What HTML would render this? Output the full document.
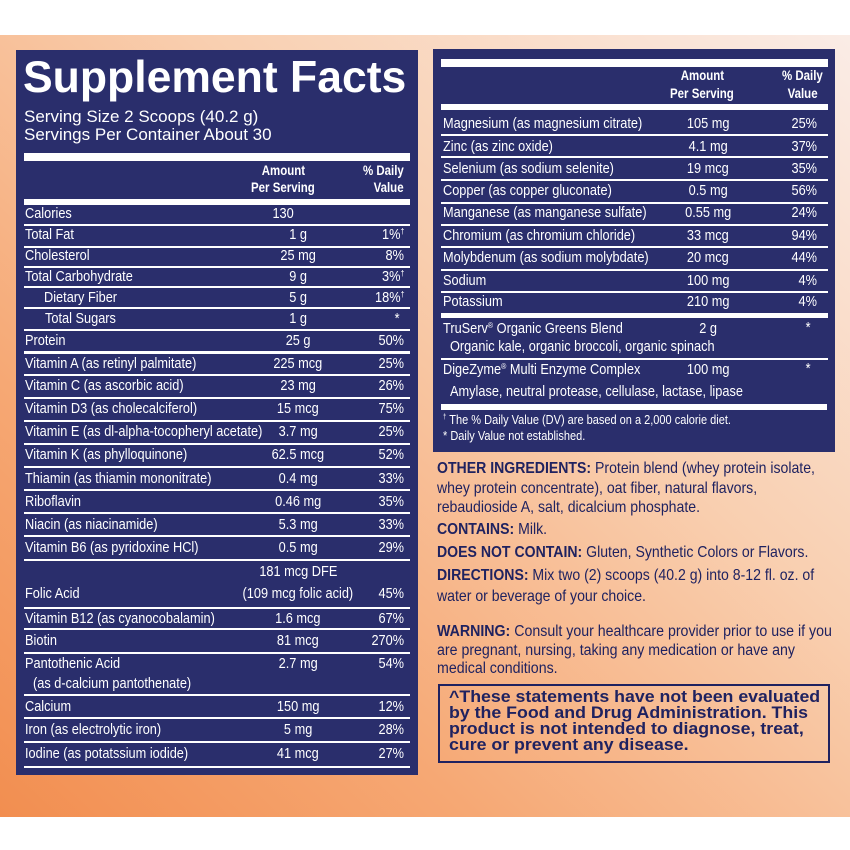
<!DOCTYPE html>
<html><head><meta charset="utf-8">
<style>
html,body{margin:0;padding:0;}
body{width:850px;height:850px;position:relative;overflow:hidden;background:#fff;font-family:"Liberation Sans",Arial,sans-serif;}
#bg{position:absolute;left:0;top:35px;width:850px;height:782px;background:linear-gradient(to bottom left,#faece6 0%,#f9cfb0 38%,#f6a874 72%,#f28e50 100%);}
.panel{position:absolute;background:#2a2e6c;}
.t{position:absolute;white-space:nowrap;color:#fff;font-size:14.5px;line-height:18px;height:18px;}
.t span{display:inline-block;}
.sp{position:relative;top:-5px;font-size:8px;line-height:0;}
.ln{position:absolute;background:#fff;}
.bt{position:absolute;white-space:nowrap;color:#1f2260;font-size:16px;line-height:20px;transform-origin:left center;}
.bt b{font-weight:bold;}
.dl{display:block;transform:scaleX(1.075);transform-origin:left center;}
</style></head>
<body>
<div id="bg"></div>
<div class="panel" style="left:16px;top:50px;width:402px;height:725px"></div>
<div class="panel" style="left:433px;top:49px;width:402px;height:403px"></div>
<div style="position:absolute;left:23px;top:53px;color:#fff;font-weight:bold;font-size:44.5px;line-height:50px;white-space:nowrap">Supplement Facts</div>
<div style="position:absolute;left:24px;top:108px;color:#fff;font-size:17px;line-height:18px;white-space:nowrap">Serving Size 2 Scoops (40.2 g)</div>
<div style="position:absolute;left:24px;top:126px;color:#fff;font-size:17px;line-height:18px;white-space:nowrap">Servings Per Container About 30</div>
<div id="layer"></div>

<div class="bt" style="left:437px;top:459px;transform:scaleX(.88)"><b>OTHER INGREDIENTS:</b> Protein blend (whey protein isolate,</div>
<div class="bt" style="left:437px;top:479px;transform:scaleX(.88)">whey protein concentrate), oat fiber, natural flavors,</div>
<div class="bt" style="left:437px;top:498px;transform:scaleX(.88)">rebaudioside A, salt, dicalcium phosphate.</div>
<div class="bt" style="left:437px;top:520px;transform:scaleX(.88)"><b>CONTAINS:</b> Milk.</div>
<div class="bt" style="left:437px;top:543px;transform:scaleX(.88)"><b>DOES NOT CONTAIN:</b> Gluten, Synthetic Colors or Flavors.</div>
<div class="bt" style="left:437px;top:566px;transform:scaleX(.88)"><b>DIRECTIONS:</b> Mix two (2) scoops (40.2 g) into 8-12 fl. oz. of</div>
<div class="bt" style="left:437px;top:587px;transform:scaleX(.88)">water or beverage of your choice.</div>
<div class="bt" style="left:437px;top:622px;font-size:15.5px;transform:scaleX(.915)"><b>WARNING:</b> Consult your healthcare provider prior to use if you</div>
<div class="bt" style="left:437px;top:641px;font-size:15.5px;transform:scaleX(.915)">are pregnant, nursing, taking any medication or have any</div>
<div class="bt" style="left:437px;top:659px;font-size:15.5px;transform:scaleX(.915)">medical conditions.</div>
<div style="position:absolute;left:438px;top:684px;width:388px;height:75px;border:2px solid #1f2260"></div>
<div style="position:absolute;left:449px;top:689px;color:#1f2260;font-weight:bold;font-size:16.5px;line-height:16px;white-space:nowrap"><span class="dl">^These statements have not been evaluated</span><span class="dl">by the Food and Drug Administration. This</span><span class="dl">product is not intended to diagnose, treat,</span><span class="dl">cure or prevent any disease.</span></div>

<script>
var layer=document.getElementById('layer');
var SX=0.88;
function txt(str,x,y,align,name,opts){
  var d=document.createElement('div');
  d.className='t';
  
  
  var s=document.createElement('span');
  s.innerHTML=str;
  var fs=(opts&&opts.fs)||14.5;
  var sx=(opts&&opts.sx)||SX;
  d.style.fontSize=fs+'px';
  if(opts&&opts.bold){d.style.fontWeight='bold';}
  d.style.top=(y-9)+'px';
  if(align==='l'){d.style.left=x+'px';s.style.transform='scaleX('+sx+')';s.style.transformOrigin='left center';}
  else if(align==='c'){d.style.left=(x-150)+'px';d.style.width='300px';d.style.textAlign='center';s.style.transform='scaleX('+sx+')';s.style.transformOrigin='center center';}
  else {d.style.left=(x-300)+'px';d.style.width='300px';d.style.textAlign='right';s.style.transform='scaleX('+sx+')';s.style.transformOrigin='right center';}
  d.appendChild(s);
  layer.appendChild(d);
}
function line(x,y,w,h,name){
  var l=document.createElement('div');
  l.className='ln';
  
  
  l.style.left=x+'px';l.style.top=y+'px';l.style.width=w+'px';l.style.height=h+'px';
  layer.appendChild(l);
}
var dag='<span class="sp">&dagger;</span>';
var reg='<span class="sp">&reg;</span>';
// Left panel
var leftNames=['Calories','Total Fat','Cholesterol','Total Carbohydrate','Dietary Fiber','Total Sugars','Protein','Vitamin A (as retinyl palmitate)','Vitamin C (as ascorbic acid)','Vitamin D3 (as cholecalciferol)','Vitamin E (as dl-alpha-tocopheryl acetate)','Vitamin K (as phylloquinone)','Thiamin (as thiamin mononitrate)','Riboflavin','Niacin (as niacinamide)','Vitamin B6 (as pyridoxine HCl)','Folic Acid','Vitamin B12 (as cyanocobalamin)','Biotin','Pantothenic Acid','Calcium','Iron (as electrolytic iron)','Iodine (as potatssium iodide)'];
var leftAmounts=['130','1 g','25 mg','9 g','5 g','1 g','25 g','225 mcg','23 mg','15 mcg','3.7 mg','62.5 mcg','0.4 mg','0.46 mg','5.3 mg','0.5 mg','(109 mcg folic acid)','1.6 mcg','81 mcg','2.7 mg','150 mg','5 mg','41 mcg'];
var leftDV=['','1%'+dag,'8%','3%'+dag,'18%'+dag,'*','50%','25%','26%','75%','25%','52%','33%','35%','33%','29%','45%','67%','270%','54%','12%','28%','27%'];
var leftY=[214,235,256,277,298,319,341,364,386,409,432,455,479,502,525,548,594,619,641,664,707,730,754];
var indent=[0,0,0,0,19,20,0,0,0,0,0,0,0,0,0,0,0,0,0,0,0,0,0];
var leftLines=[225,247,267,287,308,330,352,375,398,421,444,467,490,513,536,560,608,629,653,695,718,742,767];

line(24,153,386,8,'header-thick-bar');
txt('Amount',283,170,'c','amount-header',{bold:1,fs:14,sx:.82});
txt('Per Serving',283,187,'c','amount-header-2',{bold:1,fs:14,sx:.82});
txt('% Daily',404,170,'r','dv-header',{bold:1,fs:14,sx:.82});
txt('Value',404,187,'r','dv-header-2',{bold:1,fs:14,sx:.82});
line(24,199,386,6,'header-thick-bar-2');
for(var i=0;i<leftNames.length;i++){
  txt(leftNames[i],25+indent[i],leftY[i],'l','nutrient-name');
  txt(leftAmounts[i],i===0?283:298,leftY[i],'c','nutrient-amount');
  if(leftDV[i]) txt(leftDV[i],i===5?400:404,leftY[i],'r','nutrient-dv');
}
txt('181 mcg DFE',298,572,'c','folate-dfe');
txt('(as d-calcium pantothenate)',33,684,'l','pantothenic-source');
for(var j=0;j<leftLines.length;j++){
  line(24,leftLines[j]-1,386,j===6?3:1.5,'row-divider');
}
// Right panel
var rightNames=['Magnesium (as magnesium citrate)','Zinc (as zinc oxide)','Selenium (as sodium selenite)','Copper (as copper gluconate)','Manganese (as manganese sulfate)','Chromium (as chromium chloride)','Molybdenum (as sodium molybdate)','Sodium','Potassium'];
var rightAmounts=['105 mg','4.1 mg','19 mcg','0.5 mg','0.55 mg','33 mcg','20 mcg','100 mg','210 mg'];
var rightDV=['25%','37%','35%','56%','24%','94%','44%','4%','4%'];
var rightY=[124,147,169,191,213,236,258,281,302];
var rightLines=[135,157,180,203,225,247,270,292];
line(441,59,387,8,'right-header-thick-bar');
txt('Amount',702,75,'c','right-amount-header',{bold:1,fs:14,sx:.82});
txt('Per Serving',702,93,'c','right-amount-header-2',{bold:1,fs:14,sx:.82});
txt('% Daily',823,75,'r','right-dv-header',{bold:1,fs:14,sx:.82});
txt('Value',818,93,'r','right-dv-header-2',{bold:1,fs:14,sx:.82});
line(441,104,387,6,'right-header-thick-bar-2');
for(var k=0;k<rightNames.length;k++){
  txt(rightNames[k],443,rightY[k],'l','mineral-name');
  txt(rightAmounts[k],708,rightY[k],'c','mineral-amount');
  txt(rightDV[k],817,rightY[k],'r','mineral-dv');
}
for(var m=0;m<rightLines.length;m++){
  line(441,rightLines[m]-1,387,1.5,'right-row-divider');
}
line(441,313,387,5,'blend-thick-bar');
txt('TruServ'+reg+' Organic Greens Blend',443,329,'l','greens-blend-name');
txt('2 g',708,329,'c','greens-blend-amount');
txt('*',811,328,'r','greens-blend-dv');
txt('Organic kale, organic broccoli, organic spinach',450,347,'l','greens-blend-ingredients');
line(441,358,387,1.5,'blend-divider');
txt('DigeZyme'+reg+' Multi Enzyme Complex',443,370,'l','enzyme-complex-name');
txt('100 mg',708,370,'c','enzyme-complex-amount');
txt('*',811,369,'r','enzyme-complex-dv');
txt('Amylase, neutral protease, cellulase, lactase, lipase',450,392,'l','enzyme-complex-ingredients');
line(441,404,386,6,'footer-thick-bar');
txt('<span class="sp" style="font-size:7px">&dagger;</span> The % Daily Value (DV) are based on a 2,000 calorie diet.',443,420,'l','footnote-dv',{fs:12.5});
txt('* Daily Value not established.',443,436,'l','footnote-asterisk',{fs:12.5});
</script>
</body></html>
